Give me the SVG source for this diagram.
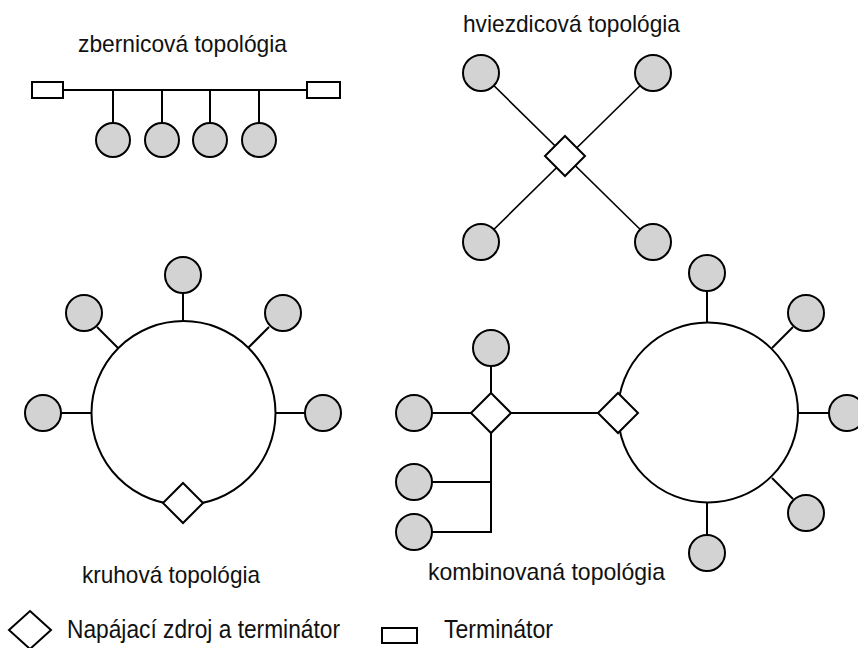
<svg xmlns="http://www.w3.org/2000/svg" width="858" height="648" viewBox="0 0 858 648">
<style>
.node{fill:#d3d3d3;stroke:#000;stroke-width:2}
.ring{fill:none;stroke:#000;stroke-width:2}
.dia{fill:#fff;stroke:#000;stroke-width:2}
.term{fill:#fff;stroke:#000;stroke-width:2}
.ln{stroke:#000;stroke-width:2;fill:none}
.thin{stroke:#000;stroke-width:1.6;fill:none}
text{font-family:"Liberation Sans",Arial,sans-serif;font-size:24px;fill:#111}
.lg{font-size:25px}
</style>
<rect width="858" height="648" fill="#fff"/>
<g id="connectors">
  <!-- bus -->
  <line class="ln" x1="63" y1="90" x2="307" y2="90"/>
  <line class="ln" x1="113" y1="90" x2="113" y2="123"/>
  <line class="ln" x1="162" y1="90" x2="162" y2="123"/>
  <line class="ln" x1="210" y1="90" x2="210" y2="123"/>
  <line class="ln" x1="259" y1="90" x2="259" y2="123"/>
  <!-- star -->
  <line class="thin" x1="481" y1="73" x2="653" y2="242"/>
  <line class="thin" x1="653" y1="73" x2="481" y2="242"/>
  <!-- ring -->
  <line class="ln" x1="183" y1="293" x2="183" y2="322"/>
  <line class="ln" x1="97" y1="327" x2="118" y2="348"/>
  <line class="ln" x1="269" y1="327" x2="248" y2="348"/>
  <line class="ln" x1="61" y1="413" x2="91" y2="413"/>
  <line class="ln" x1="305" y1="413" x2="276" y2="413"/>
  <!-- combined -->
  <line class="ln" x1="491" y1="366" x2="491" y2="393"/>
  <line class="ln" x1="432" y1="413" x2="471" y2="413"/>
  <line class="ln" x1="511" y1="413" x2="598" y2="413"/>
  <polyline class="ln" points="491,433 491,532 432,532"/>
  <line class="ln" x1="432" y1="482" x2="491" y2="482"/>
  <line class="ln" x1="707" y1="291" x2="707" y2="322"/>
  <line class="ln" x1="772" y1="348" x2="793" y2="327"/>
  <line class="ln" x1="798" y1="413" x2="829" y2="413"/>
  <line class="ln" x1="772" y1="478" x2="793" y2="499"/>
  <line class="ln" x1="707" y1="503" x2="707" y2="535"/>
</g>
<g id="bus">
  <text x="78" y="52" textLength="209" lengthAdjust="spacingAndGlyphs">zbernicová topológia</text>
  <rect class="term" x="32" y="82" width="31" height="16"/>
  <rect class="term" x="307" y="82" width="33" height="16"/>
  <circle class="node" cx="113" cy="140" r="17"/>
  <circle class="node" cx="162" cy="140" r="17"/>
  <circle class="node" cx="210" cy="140" r="17"/>
  <circle class="node" cx="259" cy="140" r="17"/>
</g>
<g id="star">
  <text x="463" y="32" textLength="217" lengthAdjust="spacingAndGlyphs">hviezdicová topológia</text>
  <circle class="node" cx="481" cy="73" r="18"/>
  <circle class="node" cx="653" cy="73" r="18"/>
  <circle class="node" cx="481" cy="242" r="18"/>
  <circle class="node" cx="653" cy="242" r="18"/>
  <polygon class="dia" points="565,136 585,156 565,176 545,156"/>
</g>
<g id="ringtopo">
  <circle class="ring" cx="183.5" cy="413" r="92"/>
  <circle class="node" cx="183" cy="275" r="18"/>
  <circle class="node" cx="84" cy="313" r="18"/>
  <circle class="node" cx="283" cy="313" r="18"/>
  <circle class="node" cx="43" cy="413" r="18"/>
  <circle class="node" cx="323" cy="413" r="18"/>
  <polygon class="dia" points="183,483 203,503 183,523 163,503"/>
  <text x="82" y="583" textLength="178" lengthAdjust="spacingAndGlyphs">kruhová topológia</text>
</g>
<g id="combined">
  <circle class="ring" cx="708" cy="412.5" r="90"/>
  <polygon class="dia" points="491,393 511,413 491,433 471,413"/>
  <polygon class="dia" points="618,393 638,413 618,433 598,413"/>
  <circle class="node" cx="491" cy="348" r="18"/>
  <circle class="node" cx="414" cy="413" r="18"/>
  <circle class="node" cx="414" cy="482" r="18"/>
  <circle class="node" cx="414" cy="532" r="18"/>
  <circle class="node" cx="707" cy="273" r="18"/>
  <circle class="node" cx="806" cy="313" r="18"/>
  <circle class="node" cx="847" cy="413" r="18"/>
  <circle class="node" cx="806" cy="513" r="18"/>
  <circle class="node" cx="707" cy="553" r="18"/>
  <text x="428" y="580" textLength="237" lengthAdjust="spacingAndGlyphs">kombinovaná topológia</text>
</g>
<g id="legend">
  <polygon class="dia" points="30,611 51,630 30,649 9,630"/>
  <text class="lg" x="67" y="638" textLength="273" lengthAdjust="spacingAndGlyphs">Napájací zdroj a terminátor</text>
  <rect class="term" x="382" y="628" width="35" height="15"/>
  <text class="lg" x="444" y="638" textLength="109" lengthAdjust="spacingAndGlyphs">Terminátor</text>
</g>
</svg>
